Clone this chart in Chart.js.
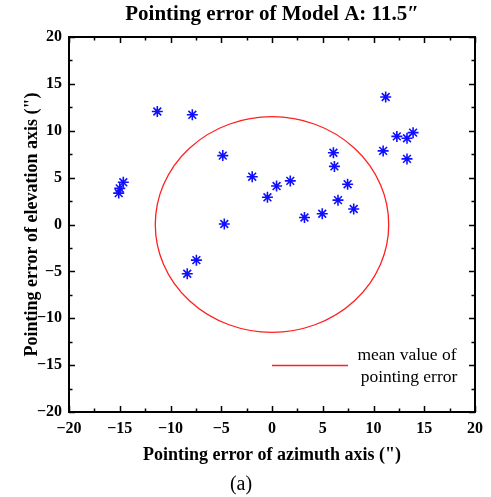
<!DOCTYPE html>
<html>
<head>
<meta charset="utf-8">
<script src="https://cdn.jsdelivr.net/npm/chart.js@4/dist/chart.umd.min.js"></script>
<style>
  html, body { margin: 0; padding: 0; background: #fff; }
  #wrap { width: 491px; height: 497px; }
</style>
</head>
<body>
<div id="wrap"><canvas id="c" width="491" height="497"></canvas></div>
<script>
// Azimuth / elevation pointing residuals (arcsec)
const azimuthErr = [
  -15.1, -15.0, -14.65, -11.3, -7.85, -4.85, -4.7, -1.95, -0.45, 0.45,
  1.8, 3.2, 4.95, 6.05, 6.15, 6.5, 7.45, 8.05, 10.95, 11.2,
  12.3, 13.3, 13.9, 13.3, -7.45, -8.35
];
const elevationErr = [
  3.35, 3.85, 4.5, 12.05, 11.7, 7.35, 0.05, 5.1, 2.9, 4.1,
  4.65, 0.75, 1.15, 7.65, 6.2, 2.6, 4.3, 1.65, 7.85, 13.6,
  9.4, 9.2, 9.8, 7.0, -3.8, -5.25
];
const meanError = 11.5;
const tickValues = [-20, -15, -10, -5, 0, 5, 10, 15, 20];
const axisMin = -20, axisMax = 20, minorStep = 2.5;

const SERIF = '"Liberation Serif", "Times New Roman", serif';
const fmt = v => (v < 0 ? '\u2212' + Math.abs(v) : String(v));
const tickLabel = v => (tickValues.includes(v) ? fmt(v) : '');

const points = azimuthErr.map((x, i) => ({ x, y: elevationErr[i] }));

// Frame, inward tick marks, mean-error circle, legend, title and caption
const decor = {
  id: 'decor',
  beforeDatasetsDraw(chart) {
    const { ctx, scales: { x, y } } = chart;
    ctx.save();
    // mean value circle
    const cx = x.getPixelForValue(0), cy = y.getPixelForValue(0);
    const rx = x.getPixelForValue(meanError) - cx;
    const ry = cy - y.getPixelForValue(meanError);
    ctx.strokeStyle = '#ff2020';
    ctx.lineWidth = 1.3;
    ctx.beginPath();
    ctx.ellipse(cx, cy, rx, ry, 0, 0, Math.PI * 2);
    ctx.stroke();
    ctx.restore();
  },
  afterDraw(chart) {
    const { ctx, chartArea: a, scales: { x, y } } = chart;
    ctx.save();
    ctx.strokeStyle = '#000';
    ctx.lineWidth = 1.5;
    x.ticks.forEach(t => {
      const px = Math.round(x.getPixelForValue(t.value)) + 0.5;
      const len = tickValues.includes(t.value) ? 6 : 3.5;
      ctx.beginPath();
      ctx.moveTo(px, a.bottom); ctx.lineTo(px, a.bottom - len);
      ctx.moveTo(px, a.top); ctx.lineTo(px, a.top + len);
      ctx.stroke();
    });
    y.ticks.forEach(t => {
      const py = Math.round(y.getPixelForValue(t.value)) + 0.5;
      const len = tickValues.includes(t.value) ? 6 : 3.5;
      ctx.beginPath();
      ctx.moveTo(a.left, py); ctx.lineTo(a.left + len, py);
      ctx.moveTo(a.right, py); ctx.lineTo(a.right - len, py);
      ctx.stroke();
    });
    ctx.lineWidth = 2;
    ctx.strokeRect(a.left, a.top, a.right - a.left, a.bottom - a.top);

    // legend
    ctx.strokeStyle = '#ff2020';
    ctx.lineWidth = 1.3;
    ctx.beginPath();
    ctx.moveTo(272, 365.5); ctx.lineTo(348, 365.5);
    ctx.stroke();
    ctx.fillStyle = '#000';
    ctx.font = '17.5px ' + SERIF;
    ctx.textAlign = 'center';
    ctx.textBaseline = 'middle';
    ctx.fillText('mean value of', 407, 355);
    ctx.fillText('pointing error', 409, 377);

    // title, centred over the plot area
    ctx.font = 'bold 21px ' + SERIF;
    ctx.fillText('Pointing error of Model A: 11.5\u2033', (a.left + a.right) / 2, 15);

    // caption
    ctx.font = '20px ' + SERIF;
    ctx.fillText('(a)', 241, 485);
    ctx.restore();
  }
};

const axisCommon = {
  type: 'linear',
  min: axisMin,
  max: axisMax,
  grid: { display: false, drawTicks: false },
  border: { display: false },
  ticks: {
    stepSize: minorStep,
    autoSkip: false,
    color: '#000',
    font: { family: SERIF, size: 16, weight: 'bold' },
    callback: v => tickLabel(v)
  }
};

new Chart(document.getElementById('c'), {
  type: 'scatter',
  data: {
    datasets: [{
      data: points,
      pointStyle: 'star',
      pointRadius: 5.5,
      pointHoverRadius: 5.5,
      borderColor: '#1010ff',
      backgroundColor: '#1010ff',
      borderWidth: 1.6
    }]
  },
  options: {
    responsive: false,
    animation: false,
    events: [],
    layout: { padding: { top: 37, right: 16, bottom: 30, left: 0 } },
    plugins: { legend: { display: false }, tooltip: { enabled: false } },
    scales: {
      x: {
        ...axisCommon,
        position: 'bottom',
        ticks: { ...axisCommon.ticks, padding: 7, maxRotation: 0 },
        title: {
          display: true,
          text: 'Pointing error of azimuth axis (")',
          color: '#000',
          font: { family: SERIF, size: 18, weight: 'bold' },
          padding: { top: 4, bottom: 1 }
        },
        afterFit: s => { s.height = 55; }
      },
      y: {
        ...axisCommon,
        position: 'left',
        ticks: { ...axisCommon.ticks, padding: 7 },
        title: {
          display: true,
          text: 'Pointing error of elevation axis (")',
          color: '#000',
          font: { family: SERIF, size: 18, weight: 'bold' },
          padding: { top: 22, bottom: 4 }
        },
        afterFit: s => { s.width = 69; }
      }
    }
  },
  plugins: [decor]
});
</script>
</body>
</html>
